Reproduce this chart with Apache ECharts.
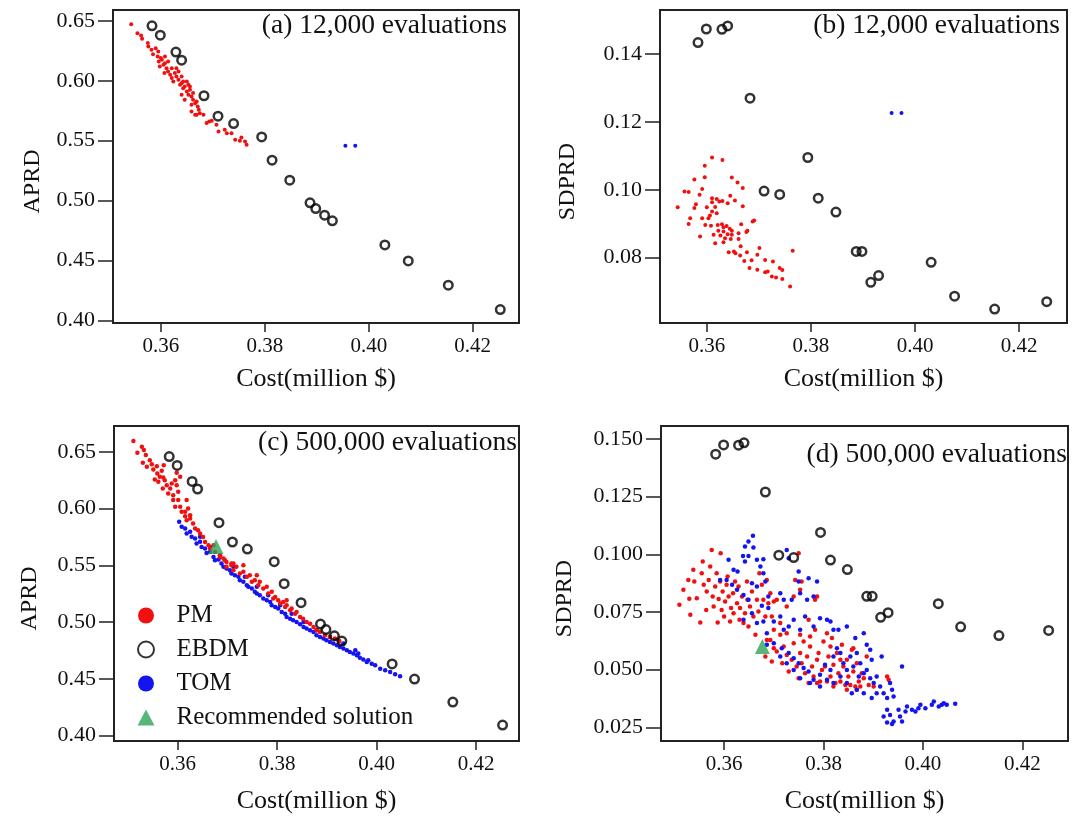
<!DOCTYPE html>
<html><head><meta charset="utf-8">
<script src="https://cdn.jsdelivr.net/npm/echarts@6/dist/echarts.min.js"></script>
<style>html,body{margin:0;padding:0;background:#fff}#c{width:1082px;height:823px}</style>
</head><body><div id="c"></div>
<script>
// ---------- tick labels ----------
const xTicks = [0.36, 0.38, 0.40, 0.42];
const aprdTicks = [0.40, 0.45, 0.50, 0.55, 0.60, 0.65];
const sdTicks12k = [0.08, 0.10, 0.12, 0.14];
const sdTicks500k = [0.025, 0.050, 0.075, 0.100, 0.125, 0.150];
const panelTitles = ['(a) 12,000 evaluations', '(b) 12,000 evaluations', '(c) 500,000 evaluations', '(d) 500,000 evaluations'];
const xName = 'Cost(million $)';
const seriesNames = ['PM', 'EBDM', 'TOM', 'Recommended solution'];

// ---------- EBDM (same in every panel) ----------
const ebdmCost  = [0.3583,0.3599,0.3629,0.3640,0.3683,0.3710,0.3740,0.3794,0.3814,0.3848,0.3887,0.3898,0.3915,0.3930,0.4031,0.4076,0.4153,0.4253];
const ebdmAPRD  = [0.6458,0.6380,0.6239,0.6172,0.5875,0.5705,0.5643,0.5532,0.5338,0.5171,0.4982,0.4934,0.4879,0.4832,0.4631,0.4498,0.4295,0.4092];
const ebdmSDPRD = [0.1434,0.1474,0.1473,0.1483,0.1270,0.0996,0.0986,0.1095,0.0975,0.0934,0.0818,0.0818,0.0727,0.0747,0.0786,0.0686,0.0648,0.0670];

// ---------- TOM after 12,000 evaluations ----------
const tom12kCost  = [0.3955, 0.3974];
const tom12kAPRD  = [0.5458, 0.5458];
const tom12kSDPRD = [0.1226, 0.1226];

// ---------- Recommended solution ----------
const recCost = [0.3677];
const recAPRD = [0.5665];
const recSDPRD = [0.0600];

// ---------- PM, 12,000 evaluations: [cost, APRD] ----------
const pm12kAPRD = [[0.3543,0.6472],[0.3555,0.6397],[0.3562,0.6378],[0.3564,0.6350],[0.3575,0.6314],[0.3576,0.6286],[0.3582,0.6258],[0.3590,0.6272],[0.3585,0.6222],[0.3594,0.6203],[0.3595,0.6244],[0.3596,0.6161],[0.3600,0.6189],[0.3602,0.6175],[0.3605,0.6133],[0.3608,0.6147],[0.3608,0.6203],[0.3598,0.6119],[0.3611,0.6105],[0.3614,0.6161],[0.3614,0.6077],[0.3607,0.6064],[0.3618,0.6050],[0.3621,0.6105],[0.3621,0.6022],[0.3624,0.5994],[0.3627,0.6064],[0.3630,0.6105],[0.3630,0.6036],[0.3634,0.6077],[0.3634,0.6008],[0.3637,0.5966],[0.3640,0.6036],[0.3640,0.5980],[0.3640,0.5883],[0.3643,0.5994],[0.3643,0.5938],[0.3646,0.5952],[0.3646,0.5841],[0.3650,0.5994],[0.3650,0.5911],[0.3653,0.5966],[0.3653,0.5883],[0.3656,0.5952],[0.3656,0.5925],[0.3659,0.5869],[0.3659,0.5799],[0.3659,0.5744],[0.3662,0.5897],[0.3662,0.5841],[0.3666,0.5813],[0.3666,0.5716],[0.3669,0.5827],[0.3669,0.5716],[0.3671,0.5786],[0.3673,0.5758],[0.3675,0.5730],[0.3682,0.5716],[0.3688,0.5647],[0.3693,0.5661],[0.3698,0.5666],[0.3707,0.5633],[0.3711,0.5577],[0.3723,0.5591],[0.3727,0.5563],[0.3736,0.5563],[0.3743,0.5508],[0.3752,0.5499],[0.3755,0.5527],[0.3762,0.5494],[0.3765,0.5466]];

// ---------- PM, 12,000 evaluations: [cost, SDPRD] ----------
const pm12kSDPRD = [[0.3610,0.1095],[0.3630,0.1088],[0.3596,0.1071],[0.3576,0.1030],[0.3596,0.1037],[0.3648,0.1036],[0.3659,0.1021],[0.3669,0.1005],[0.3557,0.0995],[0.3565,0.0993],[0.3591,0.1002],[0.3586,0.0985],[0.3645,0.0982],[0.3610,0.0975],[0.3619,0.0973],[0.3630,0.0967],[0.3640,0.0960],[0.3654,0.0968],[0.3544,0.0948],[0.3576,0.0946],[0.3579,0.0957],[0.3600,0.0948],[0.3610,0.0963],[0.3616,0.0949],[0.3624,0.0965],[0.3610,0.0936],[0.3669,0.0951],[0.3606,0.0924],[0.3568,0.0916],[0.3565,0.0899],[0.3591,0.0916],[0.3603,0.0916],[0.3619,0.0931],[0.3597,0.0896],[0.3608,0.0894],[0.3621,0.0896],[0.3629,0.0898],[0.3632,0.0889],[0.3638,0.0893],[0.3644,0.0885],[0.3648,0.0879],[0.3666,0.0898],[0.3688,0.0906],[0.3691,0.0909],[0.3622,0.0879],[0.3632,0.0877],[0.3640,0.0869],[0.3648,0.0867],[0.3661,0.0872],[0.3676,0.0875],[0.3678,0.0879],[0.3587,0.0862],[0.3613,0.0867],[0.3626,0.0865],[0.3635,0.0857],[0.3646,0.0855],[0.3661,0.0855],[0.3616,0.0842],[0.3632,0.0845],[0.3665,0.0833],[0.3701,0.0828],[0.3642,0.0816],[0.3652,0.0818],[0.3655,0.0813],[0.3664,0.0806],[0.3677,0.0816],[0.3697,0.0808],[0.3672,0.0790],[0.3686,0.0792],[0.3712,0.0793],[0.3727,0.0788],[0.3765,0.0820],[0.3682,0.0769],[0.3697,0.0764],[0.3712,0.0757],[0.3717,0.0759],[0.3740,0.0769],[0.3745,0.0763],[0.3725,0.0744],[0.3733,0.0741],[0.3745,0.0737],[0.3760,0.0715]];

// ---------- PM, 500,000 evaluations: [cost, APRD] ----------
const pm500kAPRD = [[0.3511,0.6594],[0.3528,0.6544],[0.3532,0.6515],[0.3519,0.6491],[0.3536,0.6471],[0.3530,0.6403],[0.3544,0.6426],[0.3548,0.6391],[0.3538,0.6368],[0.3551,0.6344],[0.3558,0.6373],[0.3559,0.6309],[0.3568,0.6332],[0.3564,0.6279],[0.3571,0.6274],[0.3554,0.6256],[0.3561,0.6235],[0.3574,0.6250],[0.3578,0.6206],[0.3570,0.6177],[0.3585,0.6177],[0.3588,0.6221],[0.3595,0.6250],[0.3598,0.6206],[0.3581,0.6132],[0.3591,0.6118],[0.3601,0.6147],[0.3591,0.6074],[0.3601,0.6074],[0.3605,0.6015],[0.3595,0.6015],[0.3608,0.5971],[0.3615,0.5971],[0.3618,0.6074],[0.3621,0.6000],[0.3615,0.5932],[0.3618,0.5897],[0.3625,0.5912],[0.3631,0.5868],[0.3635,0.5824],[0.3641,0.5809],[0.3645,0.5780],[0.3651,0.5750],[0.3655,0.5706],[0.3662,0.5677],[0.3665,0.5647],[0.3672,0.5677],[0.3675,0.5618],[0.3685,0.5589],[0.3692,0.5559],[0.3698,0.5530],[0.3708,0.5500],[0.3572,0.6382],[0.3598,0.6315],[0.3605,0.6279],[0.3625,0.5941],
  [0.3685,0.5574],[0.3695,0.5545],[0.3698,0.5486],[0.3708,0.5515],[0.3712,0.5457],[0.3718,0.5486],[0.3725,0.5427],[0.3732,0.5442],[0.3739,0.5398],[0.3745,0.5413],[0.3749,0.5354],[0.3755,0.5368],[0.3762,0.5324],[0.3765,0.5354],[0.3772,0.5295],[0.3779,0.5310],[0.3782,0.5251],[0.3789,0.5266],[0.3792,0.5207],[0.3796,0.5221],[0.3802,0.5192],[0.3806,0.5163],[0.3812,0.5177],[0.3816,0.5133],[0.3819,0.5148],[0.3826,0.5104],[0.3829,0.5119],[0.3836,0.5074],[0.3839,0.5089],[0.3846,0.5045],[0.3852,0.5030],[0.3859,0.5001],[0.3866,0.4986],[0.3873,0.4957],[0.3879,0.4927],[0.3886,0.4913],[0.3896,0.4883],[0.3906,0.4869],[0.3916,0.4854],[0.3925,0.4833],[0.3712,0.5515],[0.3732,0.5501],[0.3759,0.5413],[0.3819,0.5192]];

// ---------- TOM, 500,000 evaluations: [cost, APRD] ----------
const tom500kAPRD = [[0.3603,0.5883],[0.3608,0.5839],[0.3615,0.5824],[0.3618,0.5780],[0.3625,0.5795],[0.3628,0.5751],[0.3635,0.5736],[0.3638,0.5692],[0.3645,0.5707],[0.3648,0.5662],[0.3655,0.5648],[0.3658,0.5609],[0.3665,0.5618],[0.3672,0.5574],[0.3675,0.5545],[0.3682,0.5551],[0.3688,0.5515],[0.3692,0.5486],[0.3698,0.5471],[0.3705,0.5457],[0.3708,0.5427],[0.3715,0.5413],[0.3722,0.5398],[0.3725,0.5368],[0.3732,0.5354],[0.3739,0.5324],[0.3742,0.5310],[0.3749,0.5295],[0.3755,0.5266],[0.3759,0.5251],[0.3765,0.5236],[0.3772,0.5207],[0.3779,0.5192],[0.3786,0.5177],[0.3789,0.5148],[0.3796,0.5133],[0.3802,0.5119],[0.3809,0.5089],[0.3816,0.5074],[0.3819,0.5045],[0.3826,0.5030],[0.3832,0.5016],[0.3839,0.5001],[0.3846,0.4980],[0.3853,0.4957],[0.3859,0.4942],[0.3866,0.4927],[0.3873,0.4913],[0.3879,0.4883],[0.3886,0.4869],[0.3893,0.4854],[0.3899,0.4839],[0.3906,0.4825],[0.3913,0.4810],[0.3920,0.4795],[0.3926,0.4780],[0.3933,0.4766],[0.3940,0.4751],[0.3946,0.4736],[0.3953,0.4722],[0.3960,0.4707],[0.3966,0.4686],[0.3973,0.4669],[0.3980,0.4648],[0.3990,0.4633],[0.3997,0.4619],[0.4007,0.4589],[0.4017,0.4575],[0.4027,0.4560],[0.4037,0.4539],[0.4047,0.4522],[0.3645,0.5751],[0.3665,0.5662],[0.3685,0.5589],[0.3712,0.5486],[0.3735,0.5398],[0.3759,0.5310],[0.3782,0.5236],[0.3806,0.5148],[0.3829,0.5074],[0.3853,0.5001],[0.3879,0.4927],[0.3906,0.4869],[0.3933,0.4810],[0.3957,0.4751],[0.3983,0.4663],[0.3963,0.4722]];

// ---------- PM, 500,000 evaluations: [cost, SDPRD] ----------
const pm500kSDPRD = [[0.3510,0.0781],[0.3518,0.0846],[0.3528,0.0889],[0.3530,0.0807],[0.3532,0.0738],[0.3538,0.0933],[0.3540,0.0882],[0.3545,0.0810],[0.3552,0.0704],[0.3555,0.0918],[0.3557,0.0969],[0.3559,0.0868],[0.3564,0.0759],[0.3565,0.0839],[0.3569,0.0889],[0.3572,0.0947],[0.3575,0.1019],[0.3577,0.0817],[0.3579,0.0774],[0.3582,0.0860],[0.3585,0.0918],[0.3587,0.0704],[0.3589,0.0806],[0.3592,0.0882],[0.3593,0.1005],[0.3595,0.0759],[0.3597,0.0839],[0.3600,0.0730],[0.3602,0.0795],[0.3605,0.0868],[0.3607,0.0904],[0.3609,0.0817],[0.3612,0.0709],[0.3614,0.0767],[0.3618,0.0831],[0.3619,0.0745],[0.3622,0.0882],[0.3626,0.0788],[0.3629,0.0860],[0.3631,0.0716],[0.3632,0.0767],[0.3636,0.0817],[0.3639,0.0702],[0.3642,0.0745],[0.3646,0.0882],[0.3647,0.0803],[0.3649,0.0687],[0.3652,0.0774],[0.3656,0.0839],[0.3659,0.0730],[0.3663,0.0651],[0.3666,0.0803],[0.3669,0.0752],[0.3671,0.0918],[0.3676,0.0868],[0.3679,0.0803],[0.3683,0.0730],[0.3686,0.0889],[0.3689,0.0788],[0.3693,0.0831],[0.3696,0.0730],[0.3700,0.0795],[0.3706,0.0803],[0.3713,0.0702],[0.3726,0.0774],[0.3740,0.0817],[0.3743,0.0889],[0.3750,0.1005],[0.3753,0.0846],[0.3756,0.0882],[0.3770,0.0716],[0.3783,0.0803],[0.3787,0.0817],
  [0.3683,0.0557],[0.3686,0.0629],[0.3696,0.0535],[0.3700,0.0593],[0.3706,0.0579],[0.3717,0.0528],[0.3720,0.0600],[0.3726,0.0564],[0.3730,0.0492],[0.3736,0.0543],[0.3740,0.0615],[0.3746,0.0514],[0.3750,0.0463],[0.3753,0.0572],[0.3756,0.0528],[0.3760,0.0622],[0.3763,0.0485],[0.3767,0.0557],[0.3770,0.0442],[0.3773,0.0600],[0.3777,0.0514],[0.3780,0.0470],[0.3783,0.0673],[0.3787,0.0543],[0.3790,0.0572],[0.3793,0.0449],[0.3797,0.0499],[0.3800,0.0622],[0.3803,0.0514],[0.3807,0.0449],[0.3810,0.0557],[0.3814,0.0470],[0.3817,0.0637],[0.3820,0.0521],[0.3824,0.0442],[0.3827,0.0572],[0.3830,0.0485],[0.3834,0.0449],[0.3837,0.0608],[0.3840,0.0514],[0.3844,0.0434],[0.3847,0.0543],[0.3850,0.0470],[0.3854,0.0434],[0.3857,0.0586],[0.3860,0.0492],[0.3864,0.0427],[0.3867,0.0528],[0.3871,0.0449],[0.3874,0.0427],[0.3877,0.0485],[0.3881,0.0463],[0.3887,0.0557],[0.3891,0.0434],[0.3901,0.0427],[0.3928,0.0470],[0.3931,0.0456],[0.3867,0.0413],[0.3847,0.0413],[0.3820,0.0427],[0.3787,0.0442],[0.3860,0.0593],[0.3753,0.0651],[0.3726,0.0658],[0.3713,0.0651],[0.3700,0.0673],[0.3693,0.0629],[0.3773,0.0644],[0.3814,0.0600],[0.3834,0.0543],[0.3807,0.0658]];

// ---------- TOM, 500,000 evaluations: [cost, SDPRD] ----------
const tom500kSDPRD = [[0.3658,0.1080],[0.3649,0.1055],[0.3659,0.1029],[0.3642,0.1034],[0.3638,0.0993],[0.3649,0.0993],[0.3609,0.0976],[0.3619,0.0933],[0.3627,0.0925],[0.3642,0.0969],[0.3666,0.0976],[0.3679,0.0979],[0.3673,0.0947],[0.3679,0.0918],[0.3683,0.0882],[0.3726,0.1019],[0.3730,0.0983],[0.3750,0.0925],[0.3750,0.0882],[0.3770,0.0896],[0.3787,0.0882],[0.3592,0.0889],[0.3605,0.0889],[0.3616,0.0868],[0.3626,0.0846],[0.3639,0.0824],[0.3656,0.0875],[0.3666,0.0860],[0.3649,0.0803],[0.3689,0.0817],[0.3676,0.0777],[0.3689,0.0767],[0.3713,0.0831],[0.3720,0.0803],[0.3736,0.0803],[0.3753,0.0831],[0.3767,0.0803],[0.3780,0.0817],[0.3639,0.0716],[0.3656,0.0745],[0.3666,0.0702],[0.3679,0.0709],[0.3686,0.0658],[0.3700,0.0709],[0.3713,0.0730],[0.3720,0.0673],[0.3730,0.0687],[0.3740,0.0716],[0.3753,0.0673],[0.3763,0.0730],[0.3780,0.0687],[0.3793,0.0723],[0.3807,0.0716],[0.3814,0.0709],[0.3820,0.0673],[0.3830,0.0673],[0.3847,0.0687],[0.3864,0.0637],[0.3887,0.0608],[0.3917,0.0557],[0.3958,0.0514],[0.3894,0.0586],[0.3881,0.0658],
  [0.3686,0.0608],[0.3700,0.0615],[0.3716,0.0593],[0.3730,0.0572],[0.3740,0.0550],[0.3750,0.0528],[0.3760,0.0507],[0.3770,0.0492],[0.3780,0.0456],[0.3793,0.0478],[0.3803,0.0521],[0.3814,0.0499],[0.3820,0.0557],[0.3827,0.0593],[0.3834,0.0572],[0.3840,0.0528],[0.3847,0.0499],[0.3854,0.0557],[0.3860,0.0514],[0.3867,0.0572],[0.3871,0.0470],[0.3874,0.0528],[0.3881,0.0485],[0.3887,0.0499],[0.3894,0.0463],[0.3897,0.0543],[0.3901,0.0442],[0.3907,0.0470],[0.3914,0.0427],[0.3921,0.0398],[0.3928,0.0377],[0.3934,0.0442],[0.3938,0.0413],[0.3941,0.0384],[0.3928,0.0326],[0.3921,0.0297],[0.3934,0.0304],[0.3941,0.0276],[0.3951,0.0326],[0.3954,0.0297],[0.3958,0.0276],[0.3965,0.0319],[0.3968,0.0341],[0.3978,0.0326],[0.3985,0.0319],[0.3991,0.0333],[0.3995,0.0348],[0.4005,0.0333],[0.4018,0.0348],[0.4022,0.0362],[0.4032,0.0341],[0.4038,0.0348],[0.4042,0.0355],[0.4048,0.0348],[0.4065,0.0352],[0.3928,0.0271],[0.3938,0.0265],[0.3907,0.0398],[0.3897,0.0377],[0.3881,0.0398],[0.3867,0.0413],[0.3857,0.0398],[0.3847,0.0442],[0.3834,0.0470],[0.3820,0.0442],[0.3807,0.0456],[0.3793,0.0427],[0.3773,0.0442],[0.3753,0.0463],[0.3740,0.0499],[0.3726,0.0528],[0.3713,0.0557]];

// ---------- build chart ----------
const FONT = '"Liberation Serif", "Times New Roman", serif';
const TXT = '#111';
const RED = '#f01010', BLUE = '#1414f0', GREEN = '#2ea35a';
const zip = (a, b) => a.map((v, i) => [v, b[i]]);

const grids = [
  {left: 113, top: 10, width: 406, height: 313},
  {left: 660, top: 10, width: 407, height: 313},
  {left: 114, top: 426, width: 405, height: 315},
  {left: 661, top: 426, width: 407, height: 315}
].map(g => Object.assign(g, {show: true, borderColor: '#222', borderWidth: 2, backgroundColor: 'transparent'}));

const xRanges = [[0.3508, 0.4289], [0.3510, 0.4292], [0.3472, 0.4286], [0.3473, 0.4292]];
const yRanges = [[0.398, 0.659], [0.0607, 0.153], [0.3952, 0.6727], [0.0191, 0.1556]];
const yTickSets = [aprdTicks, sdTicks12k, aprdTicks, sdTicks500k];
const yDecimals = [2, 2, 2, 3];
const yNames = ['APRD', 'SDPRD', 'APRD', 'SDPRD'];
const yNameGaps = [68, 80, 72, 84];

const xAxes = xRanges.map((r, i) => ({
  type: 'value', gridIndex: i, min: r[0], max: r[1],
  name: xName, nameLocation: 'middle', nameGap: i < 2 ? 43 : 47,
  nameTextStyle: {fontFamily: FONT, fontSize: 26, color: TXT},
  axisLine: {show: false}, splitLine: {show: false},
  axisTick: {show: true, customValues: xTicks, length: 9, lineStyle: {color: '#222', width: 1.5}},
  axisLabel: {show: true, customValues: xTicks, formatter: v => v.toFixed(2), margin: 13, fontFamily: FONT, fontSize: 21, color: TXT}
}));
const yAxes = yRanges.map((r, i) => ({
  type: 'value', gridIndex: i, min: r[0], max: r[1],
  name: yNames[i], nameLocation: 'middle', nameRotate: 90, nameGap: yNameGaps[i],
  nameTextStyle: {fontFamily: FONT, fontSize: 24, color: TXT, padding: [0, 30, 0, 0]},
  axisLine: {show: false}, splitLine: {show: false},
  axisTick: {show: true, customValues: yTickSets[i], length: 15, lineStyle: {color: '#222', width: 1.5}},
  axisLabel: {show: true, customValues: yTickSets[i], formatter: v => v.toFixed(yDecimals[i]), margin: 18, fontFamily: FONT, fontSize: 22, color: TXT}
}));

function dots(name, gi, data, color, size) {
  return {name, type: 'scatter', xAxisIndex: gi, yAxisIndex: gi, data, symbol: 'circle', symbolSize: size,
    itemStyle: {color, opacity: 1}, silent: true};
}
function ebdm(gi, vals) {
  return {name: 'EBDM', type: 'scatter', xAxisIndex: gi, yAxisIndex: gi, data: zip(ebdmCost, vals), symbol: 'circle', symbolSize: 8.5,
    itemStyle: {color: 'rgba(255,255,255,0)', borderColor: '#000', borderWidth: 2.5}, z: 5, silent: true};
}
function rec(gi, vals) {
  return {name: 'Recommended solution', type: 'scatter', xAxisIndex: gi, yAxisIndex: gi, data: zip(recCost, vals), symbol: 'triangle', symbolSize: 15,
    symbolKeepAspect: true, itemStyle: {color: GREEN}, z: 6, silent: true};
}

const series = [
  dots('PM', 0, pm12kAPRD, RED, 4), dots('TOM', 0, zip(tom12kCost, tom12kAPRD), BLUE, 4), ebdm(0, ebdmAPRD),
  dots('PM', 1, pm12kSDPRD, RED, 4), dots('TOM', 1, zip(tom12kCost, tom12kSDPRD), BLUE, 4), ebdm(1, ebdmSDPRD),
  dots('TOM', 2, tom500kAPRD, BLUE, 4.5), dots('PM', 2, pm500kAPRD, RED, 4.5), ebdm(2, ebdmAPRD), rec(2, recAPRD),
  dots('PM', 3, pm500kSDPRD, RED, 4.5), dots('TOM', 3, tom500kSDPRD, BLUE, 4.5), ebdm(3, ebdmSDPRD), rec(3, recSDPRD)
];

const titlePos = [{right: 575, top: 12}, {right: 22, top: 12}, {right: 565, top: 429}, {right: 15, top: 441}];
const titles = panelTitles.map((t, i) => Object.assign({text: t, padding: 0,
  textStyle: {fontFamily: FONT, fontSize: 27.5, fontWeight: 'normal', color: TXT}}, titlePos[i]));

const chart = echarts.init(document.getElementById('c'), null, {renderer: 'canvas'});
chart.setOption({
  animation: false,
  backgroundColor: '#fff',
  title: titles,
  grid: grids,
  xAxis: xAxes,
  yAxis: yAxes,
  legend: {
    orient: 'vertical', left: 132, top: 598, itemWidth: 17, itemHeight: 16, itemGap: 9,
    selectedMode: false, symbolKeepAspect: true,
    textStyle: {fontFamily: FONT, fontSize: 25, color: TXT, lineHeight: 24, padding: [0, 0, 0, 17]},
    data: seriesNames.map(n => ({name: n}))
  },
  series
});
</script></body></html>
